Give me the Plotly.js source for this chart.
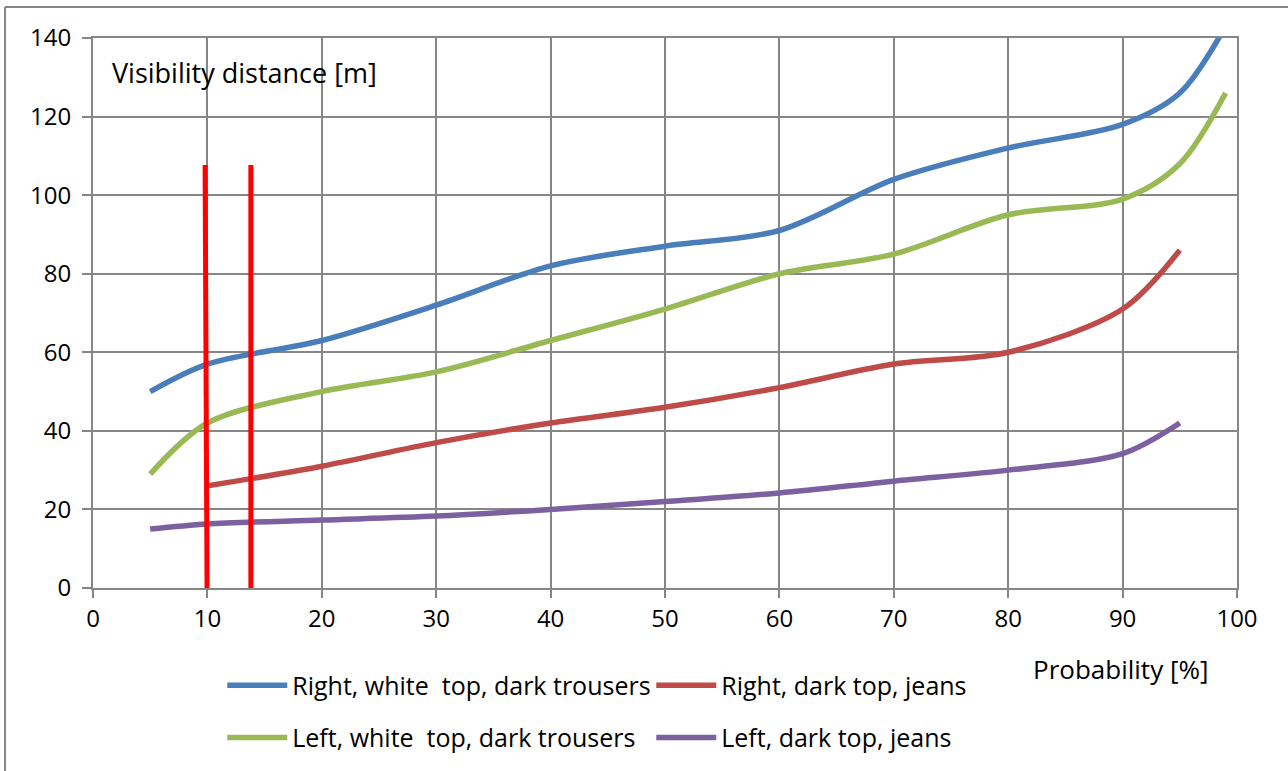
<!DOCTYPE html>
<html>
<head>
<meta charset="utf-8">
<script src="https://cdn.plot.ly/plotly-3.0.1.min.js"></script>
<style>html,body{margin:0;padding:0;background:#fff;}#chart{width:1288px;height:771px;}</style>
</head>
<body>
<div id="chart"></div>
<script>
// Data
const seriesNames = [
  "Right, white  top, dark trousers",
  "Right, dark top, jeans",
  "Left, white  top, dark trousers",
  "Left, dark top, jeans"
];
const rightWhiteX = [5, 10, 20, 30, 40, 50, 60, 70, 80, 90, 95, 99];
const rightWhiteY = [50, 57, 63, 72, 82, 87, 91, 104, 112, 118, 126, 143];
const rightDarkX = [10, 20, 30, 40, 50, 60, 70, 80, 90, 95];
const rightDarkY = [26, 31, 37, 42, 46, 51, 57, 60, 71, 86];
const leftWhiteX = [5, 10, 20, 30, 40, 50, 60, 70, 80, 90, 95, 99];
const leftWhiteY = [29, 42, 50, 55, 63, 71, 80, 85, 95, 99, 108, 126];
const leftDarkX = [5, 10, 20, 30, 40, 50, 60, 70, 80, 90, 95];
const leftDarkY = [15, 16.3, 17.3, 18.3, 20, 22, 24.2, 27.2, 30, 34.2, 42];
// Red marker lines
const marker1X = [9.8, 9.97];
const marker2X = [13.8, 13.8];
const markerY = [107.7, -1];

const xTicks = [0, 10, 20, 30, 40, 50, 60, 70, 80, 90, 100];
const yTicks = [0, 20, 40, 60, 80, 100, 120, 140];

const colors = ["#4a7ebb", "#be4b48", "#98b954", "#7d60a0"];
const FONT = "'Open Sans', sans-serif";

function series(x, y, i, legend) {
  return {
    x: x, y: y, name: seriesNames[i], type: "scatter", mode: "lines",
    line: {color: colors[i], width: 5.5, shape: "spline", smoothing: 0.9},
    legend: legend, hoverinfo: "x+y+name"
  };
}

const data = [
  series(rightWhiteX, rightWhiteY, 0, "legend"),
  series(rightDarkX, rightDarkY, 1, "legend"),
  series(leftWhiteX, leftWhiteY, 2, "legend2"),
  series(leftDarkX, leftDarkY, 3, "legend2"),
  {x: marker1X, y: markerY, type: "scatter", mode: "lines", showlegend: false,
   line: {color: "#ff0000", width: 5}, hoverinfo: "skip"},
  {x: marker2X, y: markerY, type: "scatter", mode: "lines", showlegend: false,
   line: {color: "#ff0000", width: 5}, hoverinfo: "skip"}
];

const legendCommon = {
  orientation: "h", xanchor: "left", yanchor: "middle",
  font: {family: FONT, size: 25, color: "#000"},
  bgcolor: "rgba(0,0,0,0)", borderwidth: 0,
  itemwidth: 60, entrywidth: 354, entrywidthmode: "pixels",
  traceorder: "normal", itemclick: false, itemdoubleclick: false
};

const layout = {
  width: 1288, height: 771,
  margin: {l: 93, r: 51, t: 38, b: 182},
  paper_bgcolor: "#fff", plot_bgcolor: "#fff",
  font: {family: FONT, size: 24, color: "#000"},
  showlegend: true,
  legend: Object.assign({}, legendCommon, {x: 0.113, y: -0.175}),
  legend2: Object.assign({}, legendCommon, {x: 0.113, y: -0.27}),
  xaxis: {
    range: [0, 100], tickvals: xTicks, ticktext: xTicks.map(String),
    showgrid: true, gridcolor: "#868686", gridwidth: 2,
    showline: true, linecolor: "#868686", linewidth: 2, mirror: true,
    ticks: "outside", ticklen: 8, tickwidth: 2, tickcolor: "#868686",
    zeroline: false, tickfont: {family: FONT, size: 24, color: "#000"},
    fixedrange: true
  },
  yaxis: {
    range: [0, 140], tickvals: yTicks, ticktext: yTicks.map(String),
    showgrid: true, gridcolor: "#868686", gridwidth: 2,
    showline: true, linecolor: "#868686", linewidth: 2, mirror: true,
    ticks: "outside", ticklen: 9, tickwidth: 2, tickcolor: "#868686",
    zeroline: false, tickfont: {family: FONT, size: 24, color: "#000"},
    ticklabelstandoff: 6, fixedrange: true
  },
  annotations: [
    {text: "Visibility distance [m]", xref: "paper", yref: "paper",
     x: 0.0149, y: 0.938, xanchor: "left", yanchor: "middle", showarrow: false,
     font: {family: FONT, size: 27, color: "#000"}},
    {text: "Probability [%]", xref: "paper", yref: "paper",
     x: 0.898, y: -0.147, xanchor: "center", yanchor: "middle", showarrow: false,
     font: {family: FONT, size: 26, color: "#000"}}
  ],
  shapes: [
    {type: "line", xref: "paper", yref: "paper", x0: -0.0769, x1: -0.0769, y0: 1.0563, y1: -0.35,
     line: {color: "#868686", width: 2}},
    {type: "line", xref: "paper", yref: "paper", x0: -0.0769, x1: 1.05, y0: 1.0563, y1: 1.0563,
     line: {color: "#868686", width: 2}}
  ]
};

Plotly.newPlot("chart", data, layout, {displayModeBar: false, staticPlot: true});
</script>
</body>
</html>
